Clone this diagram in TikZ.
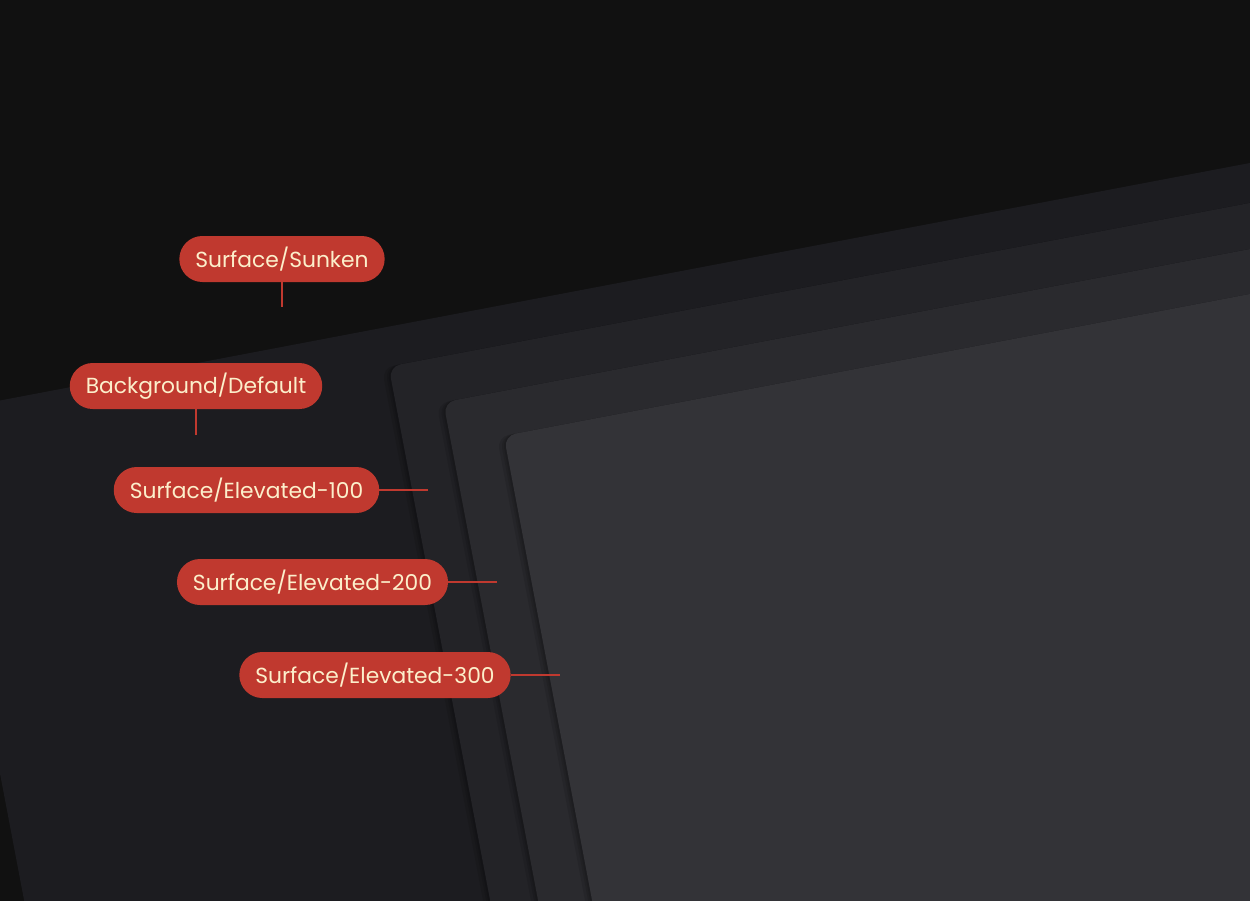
\documentclass[tikz,border=0pt]{standalone}
\usepackage{fontspec}
\setmainfont{Poppins}
\definecolor{sunken}{HTML}{111111}
\definecolor{bgdefault}{HTML}{1C1C20}
\definecolor{elevA}{HTML}{232327}
\definecolor{elevB}{HTML}{2A2A2E}
\definecolor{elevC}{HTML}{333337}
\definecolor{pillred}{HTML}{C0392F}
\definecolor{pilltext}{HTML}{FCEFCB}
\tikzset{
  pill/.style={fill=pillred, text=pilltext, minimum height=46pt, inner xsep=16pt, inner ysep=0pt,
    rounded corners=23pt, font=\fontsize{21.8pt}{26pt}\selectfont, anchor=center},
  leader/.style={draw=pillred, line width=1.3pt},
  sheet/.style={rounded corners=12pt},
  shade layer/.style={fill=black, fill opacity=0.10, rounded corners=12pt}
}
\begin{document}
\begin{tikzpicture}[x=1pt,y=-1pt]
\useasboundingbox (0,0) rectangle (1250,900);
\fill[sunken] (-6,-6) rectangle (1256,906);
\begin{scope}
\clip (-6,-6) rectangle (1256,906);
% Background/Default sheet
\begin{scope}[rotate around={10.76:(-68.4,413.5)}]
  \fill[bgdefault, sheet] (-68.4,413.5) rectangle ++(2600,2600);
\end{scope}
% Elevated-100
\begin{scope}[rotate around={10.76:(388.7,366.6)}]
  \foreach \s in {2,4,7} {\fill[shade layer] (388.7-\s,366.6) rectangle ++(2600,2600);}
  \fill[elevA, sheet] (388.7,366.6) rectangle ++(2600,2600);
\end{scope}
% Elevated-200
\begin{scope}[rotate around={10.76:(443.4,402.3)}]
  \foreach \s in {2,4,7} {\fill[shade layer] (443.4-\s,402.3) rectangle ++(2600,2600);}
  \fill[elevB, sheet] (443.4,402.3) rectangle ++(2600,2600);
\end{scope}
% Elevated-300
\begin{scope}[rotate around={10.76:(503.8,435.8)}]
  \foreach \s in {2,4,7} {\fill[shade layer] (503.8-\s,435.8) rectangle ++(2600,2600);}
  \fill[elevC, sheet] (503.8,435.8) rectangle ++(2600,2600);
\end{scope}
\end{scope}
% labels
\node[pill] (sunk) at (282,259) {Surface/Sunken};
\node[pill] (bgd) at (196,386) {Background/Default};
\node[pill] (e1) at (246.5,490) {Surface/Elevated-100};
\node[pill] (e2) at (312.5,582) {Surface/Elevated-200};
\node[pill] (e3) at (375,675) {Surface/Elevated-300};
\coordinate (sunkend) at (282,307);
\coordinate (bgdend) at (196,435);
\coordinate (e1end) at (428,490);
\coordinate (e2end) at (497,582);
\coordinate (e3end) at (560,675);
\draw[leader] (sunk.south) -- (sunkend);
\draw[leader] (bgd.south) -- (bgdend);
\draw[leader] (e1.east) -- (e1end);
\draw[leader] (e2.east) -- (e2end);
\draw[leader] (e3.east) -- (e3end);
\end{tikzpicture}
\end{document}
